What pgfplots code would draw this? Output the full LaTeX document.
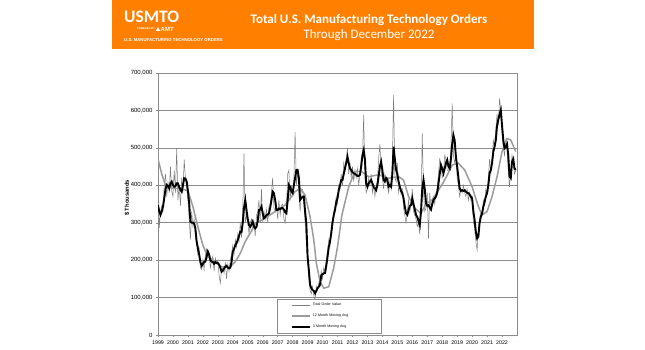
\documentclass[border=0pt]{standalone}
\usepackage{fontspec}
\setmainfont{Liberation Sans}
\newfontfamily\calibri{Carlito}
\usepackage{pgfplots}
\pgfplotsset{compat=1.18}
\usepackage{pgfplotstable}
\definecolor{amtorange}{RGB}{255,128,0}
\definecolor{rawgray}{RGB}{125,125,125}
\definecolor{magray}{RGB}{155,155,155}
\definecolor{gridgray}{RGB}{140,140,140}

\pgfplotstableread{
m raw ma3
0 420 347
1 286 330
2 330 321
3 345 330
4 330 343
5 400 365
6 430 390
7 370 401
8 410 398
9 380 392
10 450 405
11 385 410
12 370 400
13 440 396
14 380 398
15 499 405
16 360 405
17 400 395
18 345 388
19 420 383
20 380 400
21 469 419
22 420 418
23 395 410
24 360 385
25 310 352
26 255 303
27 330 300
28 290 300
29 310 298
30 260 285
31 245 250
32 215 232
33 230 215
34 180 195
35 175 185
36 200 190
37 175 195
38 215 196
39 230 210
40 205 223
41 215 215
42 180 200
43 200 196
44 210 195
45 170 190
46 205 195
47 195 192
48 200 192
49 160 188
50 138 180
51 175 169
52 180 172
53 165 178
54 195 182
55 150 185
56 190 180
57 170 178
58 200 180
59 215 195
60 240 223
61 215 230
62 255 240
63 235 245
64 270 254
65 250 265
66 300 276
67 260 275
68 340 300
69 485 340
70 300 361
71 320 334
72 300 310
73 270 294
74 300 289
75 310 295
76 280 303
77 295 290
78 265 285
79 320 289
80 330 305
81 360 334
82 300 335
83 390 343
84 300 325
85 330 312
86 310 315
87 335 320
88 300 322
89 345 325
90 350 340
91 380 360
92 420 383
93 340 379
94 330 360
95 350 334
96 310 334
97 360 338
98 320 336
99 345 339
100 350 339
101 310 335
102 300 328
103 340 325
104 430 360
105 440 401
106 360 395
107 400 383
108 370 379
109 420 400
110 543 420
111 400 441
112 440 441
113 380 420
114 330 361
115 390 365
116 390 370
117 360 370
118 300 330
119 250 298
120 200 210
121 150 174
122 120 134
123 110 125
124 130 120
125 105 118
126 94 111
127 130 118
128 120 125
129 140 129
130 130 135
131 170 160
132 150 162
133 180 165
134 170 165
135 200 185
136 225 209
137 255 235
138 240 250
139 290 272
140 310 300
141 330 320
142 345 334
143 370 355
144 350 365
145 400 387
146 390 400
147 430 414
148 400 414
149 460 430
150 440 445
151 470 460
152 500 476
153 430 460
154 460 445
155 420 441
156 450 435
157 410 432
158 440 430
159 420 428
160 445 425
161 400 425
162 430 428
163 470 450
164 470 480
165 588 494
166 420 470
167 380 405
168 390 396
169 420 405
170 400 410
171 430 414
172 380 405
173 400 395
174 370 392
175 400 387
176 410 400
177 470 425
178 510 450
179 440 463
180 420 440
181 390 414
182 430 410
183 420 419
184 400 415
185 380 396
186 410 400
187 390 396
188 460 430
189 641 503
190 420 470
191 410 441
192 460 430
193 380 410
194 400 396
195 375 385
196 390 379
197 340 365
198 320 343
199 300 325
200 330 321
201 360 334
202 330 345
203 350 347
204 390 365
205 330 350
206 320 335
207 310 321
208 290 315
209 300 305
210 270 294
211 340 330
212 539 390
213 380 414
214 330 390
215 340 352
216 380 345
217 258 347
218 380 340
219 340 335
220 360 350
221 370 361
222 350 365
223 380 370
224 390 380
225 430 405
226 470 430
227 460 454
228 420 445
229 430 432
230 480 445
231 470 460
232 440 468
233 440 450
234 450 445
235 500 470
236 619 510
237 480 534
238 460 520
239 480 476
240 420 450
241 400 420
242 370 392
243 390 385
244 380 387
245 400 385
246 380 387
247 370 383
248 390 380
249 360 379
250 380 375
251 360 370
252 370 365
253 300 330
254 290 307
255 250 275
256 227 258
257 280 263
258 310 300
259 330 316
260 320 325
261 360 343
262 350 355
263 390 370
264 380 379
265 420 400
266 470 432
267 430 441
268 470 460
269 520 490
270 500 503
271 550 521
272 590 560
273 560 575
274 632 590
275 600 601
276 540 560
277 500 521
278 480 499
279 520 503
280 500 510
281 440 480
282 395 423
283 440 419
284 480 463
285 460 470
286 430 445
287 440 441
}\orders

\pgfplotstableread{
m ma12
0 470
3 430
6 400
12 392
18 392
24 385
28 343
32 289
36 240
40 209
46 196
51 182
58 182
62 196
66 218
70 250
74 272
78 298
86 312
94 330
102 347
110 383
114 392
118 374
122 316
125 254
127 192
130 143
133 125
137 129
141 180
144 235
147.5 320
153 396
158 437
163 437
169 423
177 428
185 419
193 423
197 414
201 370
206 339
211 325
215 350
220 361
225 387
230 414
236 454
241 459
246 441
252 396
257 343
260 321
264 330
268 370
272 423
276 490
280 525
283 521
287 490
}\movavg

\begin{document}
\begin{tikzpicture}[x=1pt,y=1pt]
\path[use as bounding box] (0,0) rectangle (645,350);
\fill[white] (0,0) rectangle (645,350);
\fill[amtorange] (112,301) rectangle (534,350);
\node[font=\calibri\bfseries\fontsize{13}{15}\selectfont, text=white] at (369,330) {Total U.S. Manufacturing Technology Orders};
\node[font=\calibri\fontsize{13}{15}\selectfont, text=white] at (369,315) {Through December 2022};
\node[font=\calibri\bfseries\fontsize{17.5}{18}\selectfont, text=white, anchor=west, inner sep=0] at (124,333) {USMTO};
\node[font=\bfseries\fontsize{2.6}{3}\selectfont, text=white, anchor=east, inner sep=0] at (155,321) {POWERED BY};
\fill[white] (155.8,319) -- (160.2,319) -- (158,323) -- cycle;
\node[font=\bfseries\fontsize{6}{6}\selectfont, text=white, anchor=west, inner sep=0] at (160.5,321) {AMT};
\node[font=\bfseries\fontsize{4.3}{5}\selectfont, text=white, anchor=west, inner sep=0] at (124,310) {U.S. MANUFACTURING TECHNOLOGY ORDERS};
\node[rotate=90, font=\bfseries\fontsize{5.8}{6}\selectfont] at (127,152) {\$ Thousands};
\begin{axis}[
  at={(158pt,15pt)}, anchor=south west,
  scale only axis, width=359pt, height=262pt,
  xmin=0, xmax=288, ymin=0, ymax=700,
  xtick={0,12,...,276},
  xticklabels={1999,2000,2001,2002,2003,2004,2005,2006,2007,2008,2009,2010,2011,2012,2013,2014,2015,2016,2017,2018,2019,2020,2021,2022},
  minor xtick={1,2,...,287},
  ytick={0,100,...,700},
  yticklabels={0,{100,000},{200,000},{300,000},{400,000},{500,000},{600,000},{700,000}},
  ymajorgrids,
  major grid style={gridgray, line width=0.6pt},
  axis line style={gridgray, line width=0.6pt},
  tick style={gridgray, line width=0.4pt},
  tick align=outside,
  xtick pos=bottom, ytick pos=left,
  major tick length=2pt, minor tick length=1.5pt,
  x tick label style={font=\fontsize{5.3}{6}\selectfont},
  y tick label style={font=\fontsize{6}{7}\selectfont},
  /pgf/number format/assume math mode=true,
  legend style={at={(0.331,0.008)}, anchor=south west, draw=gridgray,
    font=\fontsize{3.6}{4}\selectfont, row sep=2.5pt, inner xsep=14pt, inner ysep=2pt,
    /tikz/every even column/.append style={text width=52pt}},
  legend cell align=left,
  legend image code/.code={\draw[#1] (0pt,0pt) -- (18pt,0pt);},
]
\addplot[rawgray, line width=0.5pt] table[x=m, y=raw] {\orders};
\addlegendentry{Total Order Value}
\addplot[magray, line width=1.5pt] table[x=m, y=ma12] {\movavg};
\addlegendentry{12 Month Moving Avg}
\addplot[black, line width=1.9pt] table[x=m, y=ma3] {\orders};
\addlegendentry{3 Month Moving Avg}
\end{axis}
\end{tikzpicture}
\end{document}
